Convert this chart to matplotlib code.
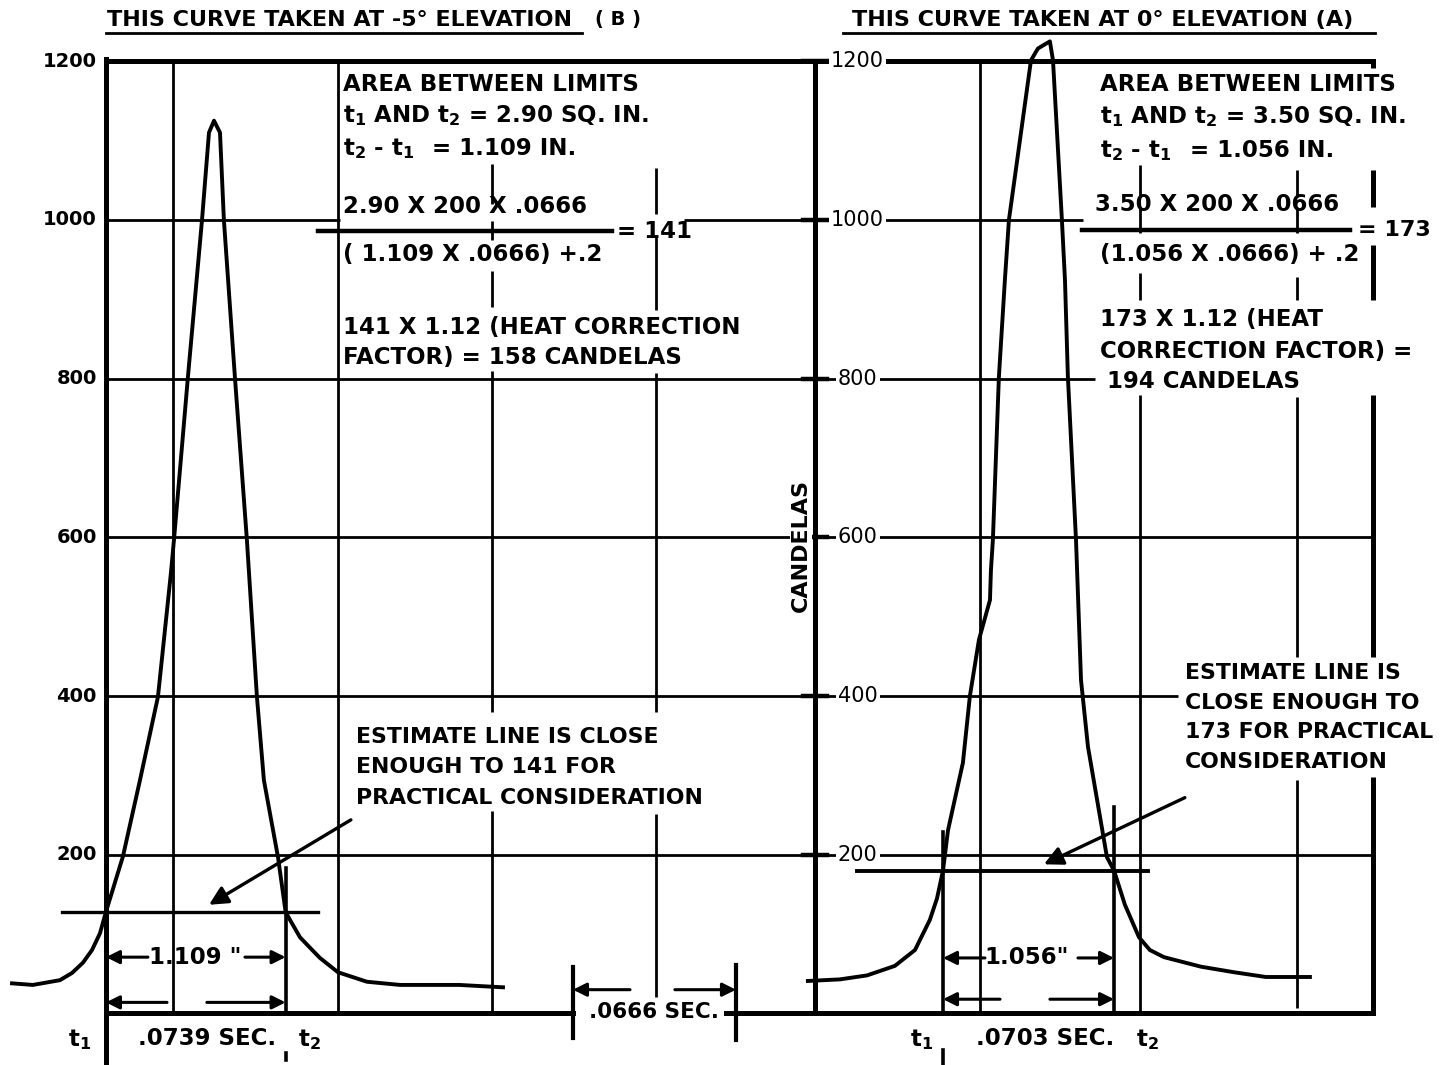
import matplotlib
matplotlib.use('Agg')
import matplotlib.pyplot as plt

plt.rcParams['font.family'] = ['DejaVu Sans']
plt.rcParams['font.weight'] = 'bold'
plt.rcParams['mathtext.fontset'] = 'custom'
plt.rcParams['mathtext.bf'] = 'DejaVu Sans:bold'
plt.rcParams['mathtext.rm'] = 'DejaVu Sans:bold'
plt.rcParams['mathtext.default'] = 'bf'

# x: inches of recorder paper (1 in = .0666 sec), y: candelas

# curve B - taken at -5 deg elevation
b_x = [-0.580, -0.451, -0.284, -0.210, -0.142, -0.086, -0.037, 0.0, 0.105, 0.210, 0.321, 0.401,
       0.420, 0.506, 0.593, 0.636, 0.667, 0.704, 0.728, 0.796, 0.870, 0.932, 0.975, 1.062,
       1.109, 1.136, 1.198, 1.259, 1.321, 1.432, 1.611, 1.815, 2.179, 2.451]
b_y = [38, 36, 42, 51, 64, 80, 101, 128, 198, 294, 399, 555,
       597, 802, 1000, 1110, 1125, 1110, 1000, 802, 597, 399, 294, 197,
       128, 118, 96, 83, 70, 52, 40, 36, 36, 33]

# curve A - taken at 0 deg elevation
a_x = [4.333, 4.531, 4.698, 4.870, 4.994, 5.086, 5.130, 5.167, 5.198, 5.290, 5.333, 5.389,
       5.457, 5.463, 5.475, 5.512, 5.549, 5.574, 5.710, 5.753, 5.827, 5.846, 5.901, 5.920,
       5.938, 5.988, 6.019, 6.062, 6.179, 6.223, 6.290, 6.377, 6.444, 6.531, 6.759, 6.963,
       7.160, 7.432]
a_y = [41, 43, 48, 60, 80, 118, 145, 180, 231, 316, 400, 471,
       521, 559, 597, 802, 924, 1000, 1201, 1216, 1225, 1201, 1000, 924,
       802, 597, 420, 336, 197, 180, 137, 96, 80, 71, 59, 52,
       46, 46]

cd_levels = [200, 400, 600, 800, 1000, 1200]
cd_labels = ['200', '400', '600', '800', '1000', '1200']

b_t1, b_t2 = 0.0, 1.109
a_t1, a_t2 = 5.167, 6.223
b_estimate, a_estimate = 128, 180
sec_mark = [2.883, 3.889]      # .0666 sec = 1 in.

# grid runs (value, start, end) - broken where the hand lettering sits
h_runs = [(1000, 0, 1.444), (1000, 3.568, 6.031), (800, 0, 6.105), (600, 0, 7.821),
          (400, 0, 6.617), (200, 0, 7.821)]
v_runs = [(0.414, 0, 1200), (1.432, 0, 1200),
          (2.383, 1020, 1070), (2.383, 975, 998), (2.383, 890, 935), (2.383, 380, 810), (2.383, 0, 255),
          (3.395, 1008, 1066), (3.395, 886, 978), (3.395, 380, 807), (3.395, 21, 252),
          (5.395, 0, 1200),
          (6.383, 1029, 1069), (6.383, 983, 1016), (6.383, 899, 933), (6.383, 0, 779),
          (7.352, 1029, 1063), (7.352, 983, 1016), (7.352, 899, 928), (7.352, 449, 777), (7.352, 7, 294)]
border_runs = [(7.821, 1191, 1201), (7.821, 1016, 1063), (7.821, 899, 968), (7.821, 449, 779),
               (7.821, 0, 298)]

fig = plt.figure(figsize=(14.46, 10.65), dpi=100)
ax = fig.add_axes([0, 0, 1, 1])
ax.set_xlim(-0.654, 8.272)
ax.set_ylim(-64.9, 1277.1)
ax.axis('off')

k = 'black'
grid_lw = 2.0
thick_lw = 3.6

# grid
for y, x0, x1 in h_runs:
    ax.plot([x0, x1], [y, y], color=k, lw=grid_lw, solid_capstyle='butt')
for x, y0, y1 in v_runs:
    ax.plot([x, x], [y0, y1], color=k, lw=grid_lw, solid_capstyle='butt')
for x, y0, y1 in border_runs:
    ax.plot([x, x], [y0, y1], color=k, lw=thick_lw, solid_capstyle='butt')

# frame: top, bottom, the two candela axes
ax.plot([0, 7.821], [1200, 1200], color=k, lw=thick_lw)
ax.plot([0, sec_mark[0]], [0, 0], color=k, lw=thick_lw)
ax.plot([3.827, 7.821], [0, 0], color=k, lw=thick_lw)
ax.plot([0, 0], [-64, 1203], color=k, lw=thick_lw)
ax.plot([4.377, 4.377], [0, 1200], color=k, lw=thick_lw)

# curves
ax.plot(b_x, b_y, color=k, lw=2.8, solid_joinstyle='round')
ax.plot(a_x, a_y, color=k, lw=2.8, solid_joinstyle='round')

# estimate lines
ax.plot([-0.272, 1.309], [b_estimate, b_estimate], color=k, lw=2.4)
ax.plot([4.636, 6.432], [a_estimate, a_estimate], color=k, lw=2.8)

# limit lines t1 / t2
ax.plot([b_t2, b_t2], [0, 183], color=k, lw=2.6)
ax.plot([b_t2, b_t2], [-50, -58], color=k, lw=2.6)
ax.plot([a_t1, a_t1], [0, 229], color=k, lw=2.6)
ax.plot([a_t1, a_t1], [-46, -64], color=k, lw=2.6)
ax.plot([a_t2, a_t2], [0, 260], color=k, lw=2.6)

# left candela scale
for v, lab in zip(cd_levels, cd_labels):
    ax.text(-0.056, v, lab, ha='right', va='center', fontsize=14)

# right candela scale, lettered on the lines
for v, lab in zip(cd_levels, cd_labels):
    ax.plot([4.30, 4.45], [v, v], color=k, lw=3.2)
    ax.text(4.64, v, lab, ha='center', va='center', fontsize=15, fontweight='normal',
            bbox=dict(facecolor='white', edgecolor='none', pad=1.5))
ax.text(4.290, 590, 'CANDELAS', rotation=90, ha='center', va='center', fontsize=16,
        bbox=dict(facecolor='white', edgecolor='none', pad=1))

fs = 16.5
fs_note = 15.8

# titles
ax.text(0.006, 1252, 'THIS CURVE TAKEN AT -5° ELEVATION', ha='left', va='center', fontsize=16)
ax.plot([0.0, 2.938], [1236, 1236], color=k, lw=2)
ax.text(3.02, 1252, '( B )', ha='left', va='center', fontsize=14)
ax.text(4.605, 1252, 'THIS CURVE TAKEN AT 0° ELEVATION (A)', ha='left', va='center', fontsize=16)
ax.plot([4.549, 7.833], [1236, 1236], color=k, lw=2)

# computation, curve B
ax.text(1.463, 1171, 'AREA BETWEEN LIMITS', ha='left', va='center', fontsize=fs)
ax.text(1.463, 1131, r'$t_1$ AND $t_2$ = 2.90 SQ. IN.', ha='left', va='center', fontsize=fs)
ax.text(1.463, 1090, r'$t_2$ - $t_1$', ha='left', va='center', fontsize=fs)
ax.text(2.012, 1090, '= 1.109 IN.', ha='left', va='center', fontsize=fs)
ax.text(2.216, 1017, '2.90 X 200 X .0666', ha='center', va='center', fontsize=fs)
ax.plot([1.309, 3.123], [986, 986], color=k, lw=3.2)
ax.text(3.154, 986, '= 141', ha='left', va='center', fontsize=fs)
ax.text(1.463, 957, '( 1.109 X .0666) +.2', ha='left', va='center', fontsize=fs)
ax.text(1.463, 864, '141 X 1.12 (HEAT CORRECTION', ha='left', va='center', fontsize=fs)
ax.text(1.463, 826, 'FACTOR) = 158 CANDELAS', ha='left', va='center', fontsize=fs)
for yy, line in zip([349, 310, 272],
                    ['ESTIMATE LINE IS CLOSE', 'ENOUGH TO 141 FOR', 'PRACTICAL CONSIDERATION']):
    ax.text(1.543, yy, line, ha='left', va='center', fontsize=fs_note)

# computation, curve A
ax.text(6.136, 1170, 'AREA BETWEEN LIMITS', ha='left', va='center', fontsize=fs)
ax.text(6.136, 1130, r'$t_1$ AND $t_2$ = 3.50 SQ. IN.', ha='left', va='center', fontsize=fs)
ax.text(6.136, 1088, r'$t_2$ - $t_1$', ha='left', va='center', fontsize=fs)
ax.text(6.691, 1088, '= 1.056 IN.', ha='left', va='center', fontsize=fs)
ax.text(6.858, 1019, '3.50 X 200 X .0666', ha='center', va='center', fontsize=fs)
ax.plot([6.025, 7.679], [987, 987], color=k, lw=3.2)
ax.text(7.728, 987, '= 173', ha='left', va='center', fontsize=fs - 0.5)
ax.text(6.136, 956, '(1.056 X .0666) + .2', ha='left', va='center', fontsize=fs)
ax.text(6.136, 874, '173 X 1.12 (HEAT', ha='left', va='center', fontsize=fs)
ax.text(6.136, 834, 'CORRECTION FACTOR) =', ha='left', va='center', fontsize=fs)
ax.text(6.179, 796, '194 CANDELAS', ha='left', va='center', fontsize=fs)
for yy, line in zip([429, 391, 355, 317],
                    ['ESTIMATE LINE IS', 'CLOSE ENOUGH TO', '173 FOR PRACTICAL', 'CONSIDERATION']):
    ax.text(6.660, yy, line, ha='left', va='center', fontsize=fs_note)

# leader arrows to the estimate lines
arw = dict(arrowstyle='-|>', color=k, lw=2.4, mutation_scale=28, shrinkA=0, shrinkB=0)
ax.annotate('', xy=(0.636, 137), xytext=(1.512, 244), arrowprops=arw)
ax.annotate('', xy=(5.790, 188), xytext=(6.660, 272), arrowprops=arw)

# dimension arrows
dim = dict(arrowstyle='-|>', color=k, lw=2.2, mutation_scale=20, shrinkA=0, shrinkB=0)
ax.annotate('', xy=(b_t1, 71), xytext=(0.259, 71), arrowprops=dim)
ax.annotate('', xy=(b_t2, 71), xytext=(0.858, 71), arrowprops=dim)
ax.text(0.549, 71, '1.109 "', ha='center', va='center', fontsize=fs)
ax.annotate('', xy=(b_t1, 14), xytext=(0.377, 14), arrowprops=dim)
ax.annotate('', xy=(b_t2, 14), xytext=(0.623, 14), arrowprops=dim)

ax.annotate('', xy=(a_t1, 70), xytext=(5.426, 70), arrowprops=dim)
ax.annotate('', xy=(a_t2, 70), xytext=(6.000, 70), arrowprops=dim)
ax.text(5.685, 70, '1.056"', ha='center', va='center', fontsize=fs)
ax.annotate('', xy=(a_t1, 18), xytext=(5.519, 18), arrowprops=dim)
ax.annotate('', xy=(a_t2, 18), xytext=(5.827, 18), arrowprops=dim)

# .0666 sec marker
ax.plot([sec_mark[0], sec_mark[0]], [-31, 59], color=k, lw=3)
ax.plot([sec_mark[1], sec_mark[1]], [-34, 61], color=k, lw=3)
ax.annotate('', xy=(sec_mark[0], 30), xytext=(3.235, 30), arrowprops=dim)
ax.annotate('', xy=(sec_mark[1], 30), xytext=(3.512, 30), arrowprops=dim)
ax.text(3.386, 2, '.0666 SEC.', ha='center', va='center', fontsize=15.5)

# time labels under the base line
ax.text(-0.160, -33, r'$t_1$', ha='center', va='center', fontsize=fs)
ax.text(0.623, -31, '.0739 SEC.', ha='center', va='center', fontsize=fs)
ax.text(1.259, -33, r'$t_2$', ha='center', va='center', fontsize=fs)
ax.text(5.037, -33, r'$t_1$', ha='center', va='center', fontsize=fs)
ax.text(5.796, -31, '.0703 SEC.', ha='center', va='center', fontsize=fs)
ax.text(6.432, -33, r'$t_2$', ha='center', va='center', fontsize=fs)

fig.savefig('out.png', dpi=100, facecolor='white')
